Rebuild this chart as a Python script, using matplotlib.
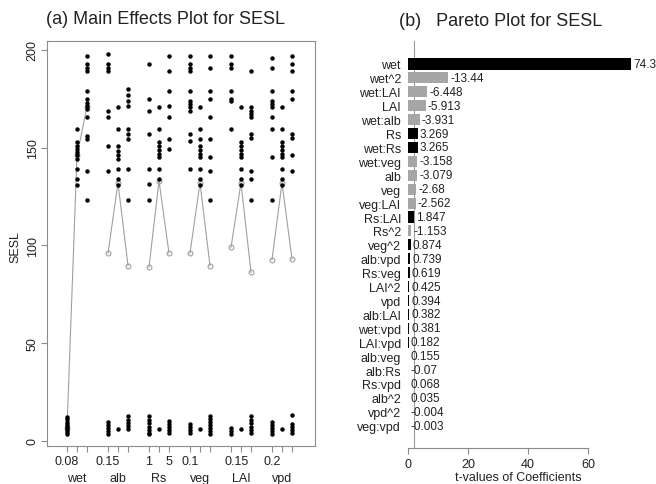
import matplotlib
matplotlib.use('Agg')
import matplotlib.pyplot as plt
import numpy as np

plt.rcParams['font.family'] = ['Liberation Sans', 'DejaVu Sans']
TXT = '#222222'
GREY = '#8c8c8c'

# ---------------- data: main effects ----------------
factors = ['wet', 'alb', 'Rs', 'veg', 'LAI', 'vpd']

wet_pts = [[3.5, 4.5, 5.5, 6.5, 7.5, 8.5, 9.5, 11, 12],
           [159.6, 153, 151, 149.5, 148, 146, 144, 139, 134, 131],
           [197, 193, 191, 189.5, 179, 175, 173, 171.5, 170, 165.5, 156, 154.5, 138, 123]]
alb_pts = [[198, 193, 191, 189, 169, 165.6, 151, 138, 9.5, 8, 6.5, 5, 3.5],
           [170.8, 159.6, 151, 148.5, 146, 144, 139, 134, 131, 6],
           [180, 177, 174, 171.5, 159.6, 157, 154.5, 139, 123, 12.5, 10.5, 9, 7.5, 6]]
rs_pts = [[192.9, 175, 169, 157, 139, 131.4, 123, 12.5, 10.5, 9, 7, 5.5, 4, 3.5],
          [170.8, 159.6, 153, 151, 149, 147, 145, 139, 134, 6],
          [197, 189.5, 179, 171.5, 165.6, 154.5, 149.4, 10, 8.5, 7, 5.5, 4]]
veg_pts = [[197, 193, 191, 189, 179, 174, 172.5, 171, 169, 157, 153.6, 139, 8.5, 7, 5.5, 4],
           [171, 159.6, 154.5, 151, 149, 147, 145, 139, 134, 131, 6],
           [197, 191, 179, 175, 165.6, 154.5, 145, 138, 123, 12.5, 11, 9.5, 8, 6.5, 5, 3.5]]
lai_pts = [[197, 193, 191, 179, 175, 174, 159.6, 6.5, 5, 3.5],
           [171, 153, 151, 149, 147, 145, 139, 134, 131, 6],
           [189, 171, 169, 167, 165.6, 157, 155, 138, 134, 123, 12.5, 10.5, 9, 7, 5.5, 4]]
vpd_pts = [[196, 191, 179, 174, 172.5, 171, 165.6, 159.6, 145, 123, 9.5, 8, 6.5, 5, 3.5],
           [171, 159.6, 153, 151, 149, 147, 145, 139, 134, 131, 6],
           [197, 193, 189, 179, 175, 157, 155, 146, 138, 13, 8.5, 7, 5.5, 4]]

wet_means = [6.5, 146, 171]
alb_means = [96, 132, 89.6]
rs_means = [88.8, 133, 96]
veg_means = [96, 132, 89.6]
lai_means = [99, 132, 86.2]
vpd_means = [92.7, 132, 93]

# tick labels shown: (factor index, level index, text)
level_labels = [(0, 0, '0.08'), (1, 0, '0.15'), (2, 0, '1'), (2, 2, '5'),
                (3, 0, '0.1'), (4, 0.6, '0.15'), (5, 0, '0.2')]

# ---------------- data: pareto ----------------
terms = ['wet', 'wet^2', 'wet:LAI', 'LAI', 'wet:alb', 'Rs', 'wet:Rs', 'wet:veg',
         'alb', 'veg', 'veg:LAI', 'Rs:LAI', 'Rs^2', 'veg^2', 'alb:vpd', 'Rs:veg',
         'LAI^2', 'vpd', 'alb:LAI', 'wet:vpd', 'LAI:vpd', 'alb:veg', 'alb:Rs',
         'Rs:vpd', 'alb^2', 'vpd^2', 'veg:vpd']
tvals = [74.3, -13.44, -6.448, -5.913, -3.931, 3.269, 3.265, -3.158,
         -3.079, -2.68, -2.562, 1.847, -1.153, 0.874, 0.739, 0.619,
         0.425, 0.394, 0.382, 0.381, 0.182, 0.155, -0.07,
         0.068, 0.035, -0.004, -0.003]
tlabels = ['74.3', '-13.44', '-6.448', '-5.913', '-3.931', '3.269', '3.265', '-3.158',
           '-3.079', '-2.68', '-2.562', '1.847', '-1.153', '0.874', '0.739', '0.619',
           '0.425', '0.394', '0.382', '0.381', '0.182', '0.155', '-0.07',
           '0.068', '0.035', '-0.004', '-0.003']
t_crit = 2.0

# ---------------- figure ----------------
W, H = 656, 485
fig = plt.figure(figsize=(W / 100, H / 100), dpi=100)


def rect(l, t, r, b):
    return [l / W, 1 - b / H, (r - l) / W, (b - t) / H]


# ---- panel (a)
ax1 = fig.add_axes(rect(47, 42, 315, 447))
GAP = 4.1


def xpos(g, j):
    return g * GAP + j


all_pts = [wet_pts, alb_pts, rs_pts, veg_pts, lai_pts, vpd_pts]
all_means = [wet_means, alb_means, rs_means, veg_means, lai_means, vpd_means]
for g, (pts, mn) in enumerate(zip(all_pts, all_means)):
    xs = [xpos(g, j) for j in range(3)]
    ax1.plot(xs, mn, '-', color='#a0a0a0', lw=0.8, zorder=2)
    ax1.plot(xs, mn, 'o', mfc='none', mec='#a0a0a0', ms=3.5, mew=0.8, zorder=2)
    for j in range(3):
        ax1.plot([xs[j]] * len(pts[j]), pts[j], 'o', color='black', ms=3.2,
                 mew=0, zorder=3)

ax1.set_xlim(-2.0, 24.8)
ax1.set_ylim(-2.7, 204.6)
ax1.set_xticks([xpos(g, j) for g in range(6) for j in range(3)])
ax1.set_xticklabels([])
ax1.set_yticks([0, 50, 100, 150, 200])
ax1.set_yticklabels(['0', '50', '100', '150', '200'], rotation=90, va='center',
                    fontsize=9, color=TXT)
ax1.tick_params(axis='both', length=4, color=GREY, width=0.8)
ax1.tick_params(axis='y', pad=2)
for sp in ax1.spines.values():
    sp.set_color(GREY)
    sp.set_linewidth(0.8)

ytl = -(462 - 447) / 405
ynm = -(479 - 447) / 405
tr = ax1.get_xaxis_transform()
for g, j, lab in level_labels:
    ax1.text(xpos(g, j), ytl, lab, transform=tr, ha='center', va='center',
             fontsize=9, color=TXT)
for g, name in enumerate(factors):
    ax1.text(xpos(g, 1), ynm, name, transform=tr, ha='center', va='center',
             fontsize=9, color=TXT)
fig.text(15 / W, 1 - 247 / H, 'SESL', rotation=90, ha='center', va='center',
         fontsize=9, color=TXT)
fig.text(165 / W, 1 - 20 / H, '(a) Main Effects Plot for SESL', ha='center',
         va='center', fontsize=13, color=TXT)

# ---- panel (b)
ax2 = fig.add_axes(rect(404, 42, 636, 449))
n = len(terms)
ypos = np.arange(n)
colors = ['black' if v > 0 else '#a6a6a6' for v in tvals]
ax2.barh(ypos, np.abs(tvals), height=0.8, color=colors, zorder=2)
ax2.axvline(t_crit, color='#9a9a9a', lw=0.8, zorder=1)
for i, (v, lab) in enumerate(zip(tvals, tlabels)):
    ax2.annotate(lab, (abs(v), i), xytext=(1.5, 0), textcoords='offset points',
                 ha='left', va='center', fontsize=8.5, color=TXT,
                 annotation_clip=False)
ax2.set_xlim(-4 / 3, 76)
ax2.set_ylim(n - 1 + 1.6, -1.65)
ax2.set_yticks(ypos)
ax2.set_yticklabels(terms, fontsize=9, color=TXT)
ax2.tick_params(axis='y', length=0, pad=2.2)
ax2.set_xticks([0, 20, 40, 60])
ax2.set_xticklabels(['0', '20', '40', '60'], fontsize=9, color=TXT)
ax2.tick_params(axis='x', length=4, color=GREY, width=0.8, pad=3)
for s in ['top', 'right', 'left']:
    ax2.spines[s].set_visible(False)
ax2.spines['bottom'].set_bounds(0, 60)
ax2.spines['bottom'].set_color(GREY)
ax2.spines['bottom'].set_linewidth(0.8)
fig.text(518 / W, 1 - 478 / H, 't-values of Coefficients', ha='center',
         va='center', fontsize=9, color=TXT)
fig.text(501 / W, 1 - 21 / H, '(b)   Pareto Plot for SESL', ha='center',
         va='center', fontsize=13, color=TXT)

fig.savefig('out.png', dpi=100, facecolor='white')
